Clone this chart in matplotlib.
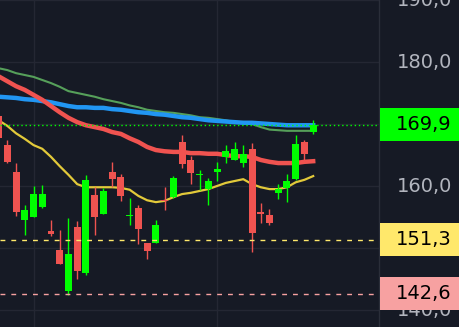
import matplotlib
matplotlib.use("Agg")
import matplotlib.pyplot as plt
import matplotlib.transforms as mtransforms
from matplotlib.patches import Rectangle
import numpy as np

# candles (oldest first)
opens = [171.3, 166.6, 162.3, 154.5, 155.0, 156.6, 152.7, 149.7, 143.1, 153.4,
         146.0, 158.5, 155.5, 162.3, 161.5, 155.2, 156.5, 150.8, 150.8, 157.7,
         158.2, 167.1, 164.2, 161.8, 159.5, 162.3, 164.7, 164.2, 163.7, 166.0,
         155.8, 155.3, 158.9, 159.7, 161.1, 167.1, 168.7]
highs = [171.9, 167.4, 163.7, 156.9, 160.0, 160.2, 154.5, 152.9, 154.8, 154.4,
         161.8, 159.8, 159.7, 163.9, 161.9, 158.1, 156.9, 150.8, 154.5, 159.8,
         161.6, 168.2, 164.8, 162.6, 161.3, 163.9, 166.6, 167.1, 166.6, 166.9,
         157.3, 156.3, 160.3, 161.9, 168.2, 167.4, 170.6]
lows = [166.6, 163.7, 155.2, 152.1, 155.0, 156.5, 151.9, 147.4, 142.4, 145.0,
        145.6, 152.1, 155.5, 159.8, 157.6, 153.7, 150.6, 148.2, 150.8, 156.1,
        158.1, 162.9, 160.3, 159.4, 156.9, 160.8, 163.7, 164.2, 163.1, 149.4,
        154.0, 153.7, 157.9, 157.4, 161.0, 163.9, 168.4]
closes = [167.7, 163.9, 155.8, 156.1, 158.7, 158.7, 152.3, 147.4, 149.0, 146.3,
          161.0, 155.0, 159.2, 161.1, 158.4, 155.4, 153.1, 149.5, 153.7, 157.6,
          161.3, 163.5, 162.1, 161.9, 160.8, 162.7, 165.6, 166.0, 165.2, 152.4,
          155.5, 154.0, 159.5, 160.8, 166.8, 165.2, 169.8]

# moving averages
ma_yellow = [170.6, 169.7, 168.5, 167.6, 166.6, 166.0, 164.7, 163.2, 161.8, 160.3,
             159.8, 159.8, 159.8, 159.8, 159.7, 159.4, 158.4, 157.7, 157.4, 157.6,
             158.2, 158.7, 158.9, 159.2, 159.5, 160.0, 160.5, 160.8, 161.1, 160.3,
             159.8, 159.5, 159.5, 159.8, 160.6, 161.0, 161.6]
ma_red = [177.7, 176.9, 176.1, 175.5, 174.7, 173.9, 172.9, 171.9, 171.0, 170.3,
          169.8, 169.5, 169.2, 168.7, 168.4, 167.7, 167.1, 166.3, 165.8, 165.6,
          165.5, 165.5, 165.3, 165.3, 165.2, 165.2, 165.0, 164.8, 164.8, 164.7,
          164.2, 163.9, 163.7, 163.7, 163.7, 163.9, 164.0]
ma_blue = [174.4, 174.3, 174.2, 174.0, 173.9, 173.7, 173.5, 173.2, 172.9, 172.7,
           172.7, 172.6, 172.6, 172.4, 172.3, 172.1, 171.9, 171.8, 171.6, 171.5,
           171.3, 171.1, 171.0, 170.8, 170.6, 170.5, 170.4, 170.3, 170.2, 170.2,
           170.1, 170.0, 169.9, 169.8, 169.8, 169.8, 169.8]
ma_green = [179.0, 178.7, 178.2, 177.9, 177.6, 177.1, 176.6, 176.0, 175.3, 175.0,
            174.7, 174.4, 174.0, 173.7, 173.4, 173.0, 172.7, 172.3, 172.1, 171.9,
            171.8, 171.6, 171.4, 171.1, 171.0, 170.8, 170.6, 170.3, 170.2, 170.0,
            169.5, 169.1, 169.0, 168.9, 168.9, 168.9, 168.9]

last_price = 169.9
level_yellow = 151.3
level_pink = 142.6
y_ticks = [140, 150, 160, 170, 180, 190]
v_grid = [4, 25]

BG = "#161a25"
GRID = "#242733"
UP = "#00ff00"
DOWN = "#ef5350"

fig = plt.figure(figsize=(4.59, 3.27), dpi=100, facecolor=BG)
ax = fig.add_axes([0, 0, 379 / 459, 1])
ax.set_facecolor(BG)

x = np.arange(len(opens))

for xv in v_grid:
    ax.axvline(xv, color=GRID, lw=1, zorder=0)
for yv in y_ticks:
    ax.axhline(yv, color=GRID, lw=1, zorder=0)

ax.plot(x, ma_green, color="#56a05a", lw=1.5, zorder=2)
ax.plot(x, ma_blue, color="#2196f3", lw=3.2, zorder=2)
ax.plot(x, ma_red, color="#f05350", lw=3.2, zorder=2)
ax.plot(x, ma_yellow, color="#e2c93a", lw=1.6, zorder=2)

o = np.array(opens)
c = np.array(closes)
colors = [UP if cc >= oo else DOWN for oo, cc in zip(opens, closes)]
ax.vlines(x, lows, highs, colors=colors, lw=1, zorder=3)
bottom = np.minimum(o, c)
height = np.maximum(np.abs(c - o), 0.2)
ax.bar(x, height, bottom=bottom, width=0.8, color=colors, zorder=4, linewidth=0)

# price lines
ax.axhline(last_price, color=UP, lw=1.0, ls=(0, (1, 2)), zorder=5)
ax.axhline(level_yellow, color="#ffe86b", lw=1.0, ls=(0, (3.5, 4.3)), zorder=5)
ax.axhline(level_pink, color="#f7a1a1", lw=1.0, ls=(0, (3.5, 4.3)), zorder=5)

ax.set_xlim(0.165, 43.53)
ax.set_ylim(137.26, 190.0)
ax.set_xticks([])
ax.set_yticks([])
for side in ["top", "left", "bottom"]:
    ax.spines[side].set_visible(False)
ax.spines["right"].set_color("#2a2e39")
ax.spines["right"].set_linewidth(1)

# right price scale
trans = mtransforms.blended_transform_factory(fig.transFigure, ax.transData)
for yv in y_ticks:
    ax.text(452 / 459, yv, f"{yv:.1f}".replace(".", ","), transform=trans,
            ha="right", va="center", fontsize=14, color="#b2b5be",
            clip_on=False, zorder=6)

half = 16.5 / 6.2
for val, col in [(last_price, UP), (level_yellow, "#ffe86b"), (level_pink, "#f7a1a1")]:
    ax.add_patch(Rectangle((380 / 459, val - half), 79 / 459, 2 * half,
                           transform=trans, facecolor=col, edgecolor="none",
                           clip_on=False, zorder=7))
    ax.text(452 / 459, val, f"{val:.1f}".replace(".", ","), transform=trans,
            ha="right", va="center", fontsize=14, color="black",
            clip_on=False, zorder=8)

fig.savefig("out.png", dpi=100, facecolor=BG)
